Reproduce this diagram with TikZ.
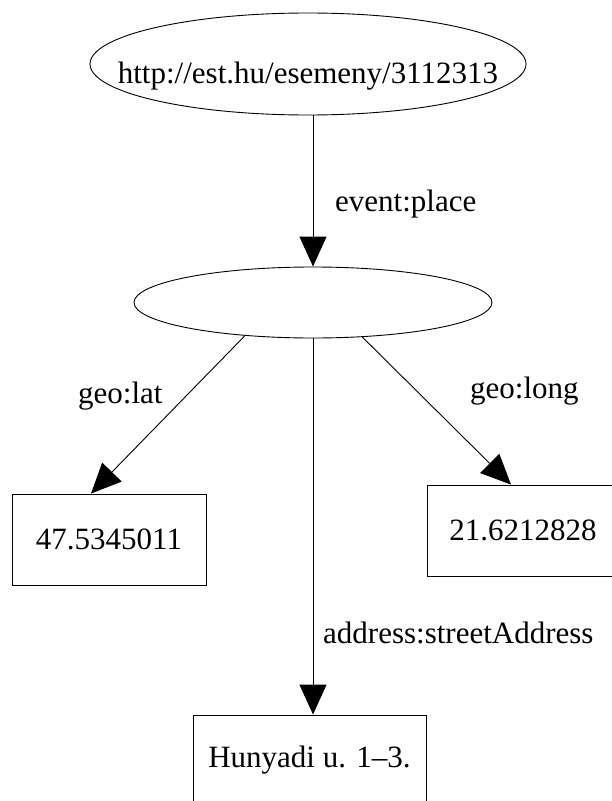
\documentclass[tikz,border=0pt]{standalone}
\usepackage{fontspec}
\setmainfont{Liberation Serif}
\usetikzlibrary{arrows.meta,shapes.geometric}
\begin{document}
\begin{tikzpicture}[x=1bp,y=-1bp,
  every node/.style={font=\fontsize{31bp}{37bp}\selectfont},
  oval/.style={ellipse,draw,line width=0.9bp,inner sep=0pt},
  valbox/.style={rectangle,draw,line width=0.9bp,minimum height=91bp},
  lbl/.style={anchor=base west,inner sep=0pt},
  edge/.style={line width=0.9bp,-{Triangle[length=30bp,width=27bp]}}]
\useasboundingbox (0,0) rectangle (612,801);
\clip (0,0) rectangle (612,801);
\fill[white] (0,0) rectangle (612,801);
% nodes
\node[oval,minimum width=436bp,minimum height=102bp] (top) at (308,64) {};
\node[anchor=base,inner sep=0pt] (toptext) at ([yshift=-19bp]top.center) {http://est.hu/esemeny/3112313};
\node[oval,minimum width=358bp,minimum height=71bp] (mid) at (313,302.5) {};
\node[valbox,minimum width=194bp] (lat) at (109,539.5) {47.5345011};
\node[valbox,minimum width=192bp] (long) at (523,530.5) {21.6212828};
\node[valbox,minimum width=233bp] (addr) at (309.5,760.5) {Hunyadi u. 1–3.};
% edges
\draw[edge] (top.south -| mid.north) -- (mid.north);
\draw[edge] (mid.206.6) -- ([xshift=-18bp]lat.north);
\draw[edge] (mid.325.7) -- ([xshift=-12bp]long.north);
\draw[edge] (mid.south) -- (mid.south |- addr.north);
% edge labels
\node[lbl] (l1) at (335,211) {event:place};
\node[lbl] (l2) at (78,403) {geo:lat};
\node[lbl] (l3) at (470,398) {geo:long};
\node[lbl] (l4) at (323,643) {address:streetAddress};
\end{tikzpicture}
\end{document}
